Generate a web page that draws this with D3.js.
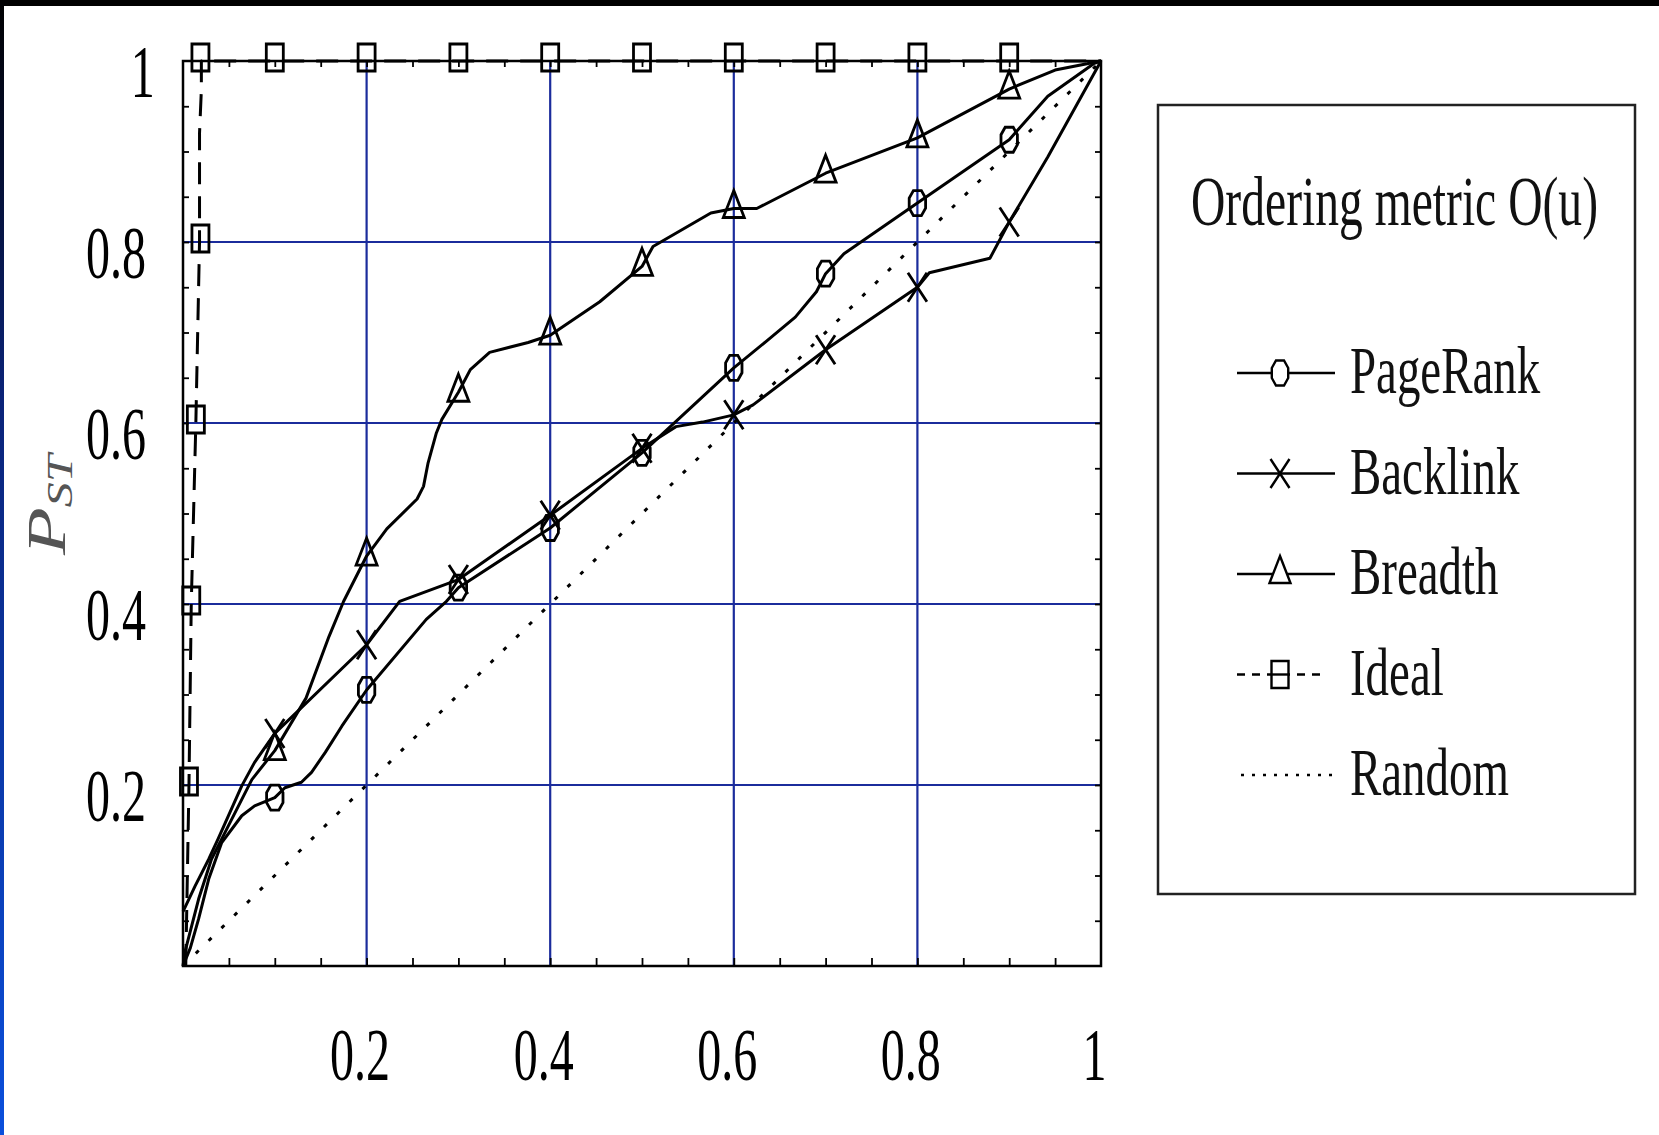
<!DOCTYPE html>
<html>
<head>
<meta charset="utf-8">
<script src="https://cdn.jsdelivr.net/npm/d3@7"></script>
<style>
  body { margin: 0; background: #fff; overflow: hidden; }
</style>
</head>
<body>
<svg width="1659" height="1135"></svg>
<script>
// tick labels and grid positions
var xTicks = [0.2, 0.4, 0.6, 0.8, 1];
var yTicks = [0.2, 0.4, 0.6, 0.8, 1];
var gridVals = [0.2, 0.4, 0.6, 0.8];
var minorTicks = d3.range(1, 20).map(function(i) { return i / 20; });

// curves
var pagerank = [[0,0],[0.008,0.02],[0.017,0.052],[0.028,0.096],[0.042,0.136],[0.064,0.166],[0.078,0.177],
  [0.1,0.186],[0.111,0.197],[0.129,0.203],[0.14,0.214],[0.155,0.236],[0.173,0.265],[0.2,0.305],
  [0.265,0.383],[0.287,0.403],[0.3,0.418],[0.4,0.484],[0.5,0.567],[0.6,0.661],[0.635,0.69],
  [0.667,0.717],[0.69,0.745],[0.7,0.765],[0.72,0.787],[0.8,0.843],[0.9,0.913],[0.942,0.961],
  [0.992,0.997],[1,1]];
var pagerankMarks = [[0.1,0.186],[0.2,0.305],[0.3,0.418],[0.4,0.484],[0.5,0.567],[0.6,0.661],
  [0.7,0.765],[0.8,0.843],[0.9,0.913]];

var backlink = [[0,0.06],[0.013,0.088],[0.028,0.118],[0.038,0.14],[0.064,0.199],[0.078,0.225],
  [0.1,0.257],[0.2,0.355],[0.236,0.403],[0.3,0.427],[0.4,0.498],[0.5,0.572],[0.537,0.596],
  [0.566,0.601],[0.6,0.609],[0.621,0.62],[0.7,0.681],[0.8,0.75],[0.813,0.766],[0.879,0.782],
  [0.9,0.822],[0.942,0.894],[1,1]];
var backlinkMarks = [[0.1,0.257],[0.2,0.355],[0.3,0.427],[0.4,0.498],[0.5,0.572],[0.6,0.609],
  [0.7,0.681],[0.8,0.75],[0.9,0.822]];

var breadth = [[0,0],[0.002,0.015],[0.017,0.074],[0.031,0.118],[0.053,0.162],[0.075,0.206],
  [0.1,0.238],[0.134,0.296],[0.159,0.364],[0.175,0.403],[0.2,0.453],[0.222,0.483],[0.255,0.516],
  [0.262,0.53],[0.267,0.556],[0.276,0.589],[0.282,0.604],[0.3,0.634],[0.313,0.659],[0.334,0.678],
  [0.376,0.689],[0.4,0.697],[0.454,0.734],[0.5,0.773],[0.512,0.795],[0.575,0.832],[0.6,0.837],
  [0.625,0.837],[0.7,0.876],[0.8,0.915],[0.9,0.969],[0.95,0.99],[1,1]];
var breadthMarks = [[0.1,0.238],[0.2,0.453],[0.3,0.634],[0.4,0.697],[0.5,0.773],[0.6,0.837],
  [0.7,0.876],[0.8,0.915],[0.9,0.969]];

var ideal = [[0.003,0],[0.0065,0.2],[0.009,0.4],[0.014,0.6],[0.018,0.8],[0.018,0.92],[0.02,0.968],
  [0.02,1],[1,1]];
var idealMarks = [[0.0065,0.2],[0.009,0.4],[0.014,0.6],[0.019,0.8],[0.019,1],[0.1,1],[0.2,1],
  [0.3,1],[0.4,1],[0.5,1],[0.6,1],[0.7,1],[0.8,1],[0.9,1]];

var random = [[0,0],[1,1]];

var seriesNames = ["PageRank", "Backlink", "Breadth", "Ideal", "Random"];

var series = [
  {name: seriesNames[0], pts: pagerank, marks: pagerankMarks, shape: "hex",   dash: null,    legDash: null},
  {name: seriesNames[1], pts: backlink, marks: backlinkMarks, shape: "cross", dash: null,    legDash: null},
  {name: seriesNames[2], pts: breadth,  marks: breadthMarks,  shape: "tri",   dash: null,    legDash: null},
  {name: seriesNames[3], pts: ideal,    marks: idealMarks,    shape: "sq",    dash: "22,12", legDash: "8,7"},
  {name: seriesNames[4], pts: random,   marks: [],            shape: null,    dash: "4,14",  legDash: "3,8"}
];

var serif = "'Liberation Serif', 'Times New Roman', serif";
var gridColor = "#1b2c9c";

var svg = d3.select("svg"),
    width = +svg.attr("width"),
    height = +svg.attr("height");

// page edges
var defs = svg.append("defs");
var grad = defs.append("linearGradient").attr("id", "edge")
    .attr("x1", 0).attr("y1", 0).attr("x2", 0).attr("y2", 1);
grad.append("stop").attr("offset", "0%").attr("stop-color", "#000000");
grad.append("stop").attr("offset", "35%").attr("stop-color", "#0a2378");
grad.append("stop").attr("offset", "100%").attr("stop-color", "#0a4fdc");

svg.append("rect").attr("width", width).attr("height", height).attr("fill", "#fff");
svg.append("rect").attr("width", width).attr("height", 6).attr("fill", "#000");
svg.append("rect").attr("width", 4).attr("height", height).attr("fill", "url(#edge)");

var x = d3.scaleLinear().domain([0, 1]).range([183, 1101]);
var y = d3.scaleLinear().domain([0, 1]).range([966, 61]);

// grid
var grid = svg.append("g").attr("stroke", gridColor).attr("stroke-width", 2.2);
grid.selectAll(".gv").data(gridVals).enter().append("line")
    .attr("x1", x).attr("x2", x).attr("y1", y(0)).attr("y2", y(1));
grid.selectAll(".gh").data(gridVals).enter().append("line")
    .attr("y1", y).attr("y2", y).attr("x1", x(0)).attr("x2", x(1));

// inward ticks on all four sides
function clean(g) {
  g.select(".domain").remove();
  g.selectAll(".tick line").attr("stroke", "#000").attr("stroke-width", 1.8);
}
svg.append("g").attr("transform", "translate(0," + y(0) + ")")
    .call(d3.axisBottom(x).tickValues(minorTicks).tickSize(-8).tickFormat("")).call(clean);
svg.append("g").attr("transform", "translate(0," + y(1) + ")")
    .call(d3.axisTop(x).tickValues(minorTicks).tickSize(-6).tickFormat("")).call(clean);
svg.append("g").attr("transform", "translate(" + x(0) + ",0)")
    .call(d3.axisLeft(y).tickValues(minorTicks).tickSize(-6).tickFormat("")).call(clean);
svg.append("g").attr("transform", "translate(" + x(1) + ",0)")
    .call(d3.axisRight(y).tickValues(minorTicks).tickSize(-6).tickFormat("")).call(clean);

// tick labels (narrow serif, as in the picture)
var xl = svg.append("g").attr("transform", "translate(0," + y(0) + ")")
    .call(d3.axisBottom(x).tickValues(xTicks).tickSize(0).tickFormat(d3.format("")));
xl.select(".domain").remove();
xl.attr("font-family", serif).attr("font-size", 75);
xl.selectAll("text").attr("y", 114).attr("dy", null).attr("x", -11)
    .attr("fill", "#000").attr("transform", "scale(0.64,1)");

var yl = svg.append("g").attr("transform", "translate(" + x(0) + ",0)")
    .call(d3.axisLeft(y).tickValues(yTicks).tickSize(0).tickFormat(d3.format("")));
yl.select(".domain").remove();
yl.attr("font-family", serif).attr("font-size", 75);
yl.selectAll("text")
    .attr("x", function(d) { return d === 1 ? -44 : -58; })
    .attr("y", 35).attr("dy", null)
    .attr("fill", "#000").attr("transform", "scale(0.64,1)");

// y title P_ST
var yt = svg.append("text")
    .attr("transform", "translate(65,555) scale(0.7,1) rotate(-90)")
    .attr("font-family", serif).attr("font-style", "italic")
    .attr("font-size", 78).attr("fill", "#555");
yt.append("tspan").text("P");
yt.append("tspan").attr("font-size", 50).attr("dy", 10).text("ST");

// series lines
var line = d3.line()
    .x(function(d) { return x(d[0]); })
    .y(function(d) { return y(d[1]); });

svg.append("g").selectAll("path").data(series.slice().reverse()).enter().append("path")
    .attr("d", function(d) { return line(d.pts); })
    .attr("fill", "none").attr("stroke", "#000")
    .attr("stroke-width", 3)
    .attr("stroke-linejoin", "round")
    .attr("stroke-dasharray", function(d) { return d.dash; });

// hollow markers
var shapes = {
  hex: "M-4,-12.5L4,-12.5L8.2,-5L8.2,5L4,12.5L-4,12.5L-8.2,5L-8.2,-5Z",
  cross: "M-9.5,-14.5L9.5,14.5M9.5,-14.5L-9.5,14.5",
  tri: "M0,-18L10.5,9L-10.5,9Z",
  sq: "M-8.5,-17H8.5V10H-8.5Z"
};

var mk = svg.append("g").selectAll("g").data(series).enter().append("g");
mk.selectAll("path").data(function(d) { return d.marks.map(function(m) { return {p: m, s: d.shape}; }); })
  .enter().append("path")
    .attr("transform", function(d) { return "translate(" + x(d.p[0]) + "," + y(d.p[1]) + ")"; })
    .attr("d", function(d) { return shapes[d.s]; })
    .attr("fill", "none").attr("stroke", "#000").attr("stroke-width", 2.8);

// frame
svg.append("rect")
    .attr("x", x(0)).attr("y", y(1))
    .attr("width", x(1) - x(0)).attr("height", y(0) - y(1))
    .attr("fill", "none").attr("stroke", "#000").attr("stroke-width", 2.5);

// legend
var leg = svg.append("g");
leg.append("rect").attr("x", 1158).attr("y", 105).attr("width", 477).attr("height", 789)
    .attr("fill", "none").attr("stroke", "#222").attr("stroke-width", 2.5);
leg.append("text")
    .attr("transform", "translate(1191,225) scale(0.68,1)")
    .attr("font-family", serif).attr("font-size", 70).attr("fill", "#111")
    .text("Ordering metric O(u)");

var item = leg.selectAll(".item").data(series).enter().append("g")
    .attr("transform", function(d, i) { return "translate(0," + (393 + i * 100.5) + ")"; });
item.append("line")
    .attr("x1", function(d) { return d.shape ? 1237 : 1241; })
    .attr("x2", function(d) { return d.legDash && d.shape ? 1325 : 1335; })
    .attr("y1", -20).attr("y2", -20)
    .attr("stroke", "#000").attr("stroke-width", 2.4)
    .attr("stroke-dasharray", function(d) { return d.legDash; });
item.filter(function(d) { return d.shape; }).append("path")
    .attr("transform", function(d) { return d.shape === "sq" ? "translate(1280,-16.5)" : "translate(1280,-20)"; })
    .attr("d", function(d) { return shapes[d.shape]; })
    .attr("fill", "#fff").attr("stroke", "#000").attr("stroke-width", 2.4);
item.filter(function(d) { return d.shape === "sq"; }).append("line")
    .attr("x1", 1271.5).attr("x2", 1288.5).attr("y1", -20).attr("y2", -20)
    .attr("stroke", "#000").attr("stroke-width", 2.4);
item.append("text")
    .attr("transform", "translate(1350,0) scale(0.69,1)")
    .attr("font-family", serif).attr("font-size", 68).attr("fill", "#111")
    .text(function(d) { return d.name; });
</script>
</body>
</html>
